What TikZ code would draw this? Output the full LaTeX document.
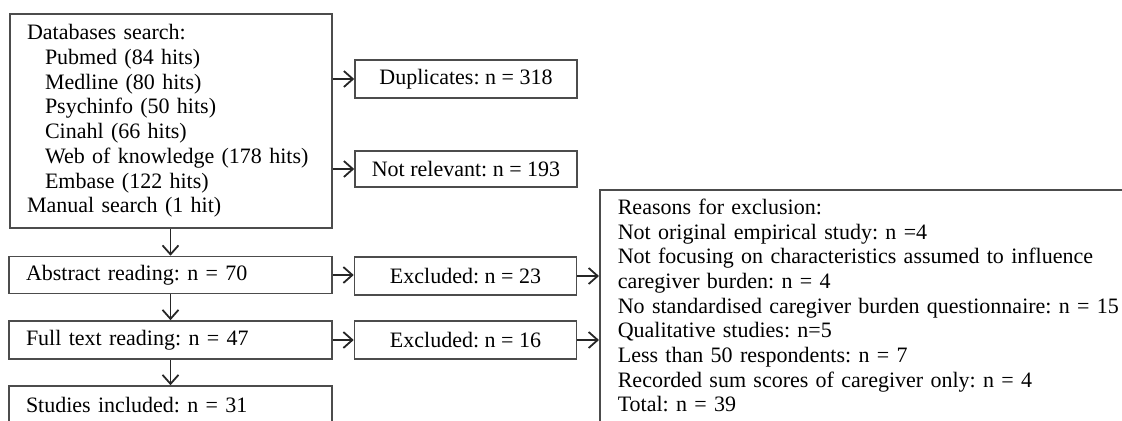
\documentclass[tikz,border=0pt]{standalone}
\usepackage{fontspec}
\setmainfont{Liberation Serif}
\usetikzlibrary{arrows.meta}
\frenchspacing

\tikzset{
  box/.style = {draw = black!70, line width = 0.8pt, inner ysep = 0pt,
    font = \fontsize{11}{12.35}\selectfont},
  leftbox/.style = {box, align = left, inner xsep = 8.5pt},
  midbox/.style = {box, align = center, minimum width = 111pt},
  arr/.style = {-{Straight Barb[length = 4.5pt, width = 8pt]}, line width = 0.9pt, color = black!85}
}

\begin{document}
\begin{tikzpicture}[x = 0.5pt, y = -0.5pt]
\clip (0, 0) rectangle (1122, 420);
%\draw[very thin, color = gray](0, 0) grid[step = 50] (1122, 420);
\node (search) [leftbox, text width = 144pt, minimum height = 107pt] at (171, 121)
  {Databases search:\\
   \hspace*{9pt}Pubmed (84 hits)\\
   \hspace*{9pt}Medline (80 hits)\\
   \hspace*{9pt}Psychinfo (50 hits)\\
   \hspace*{9pt}Cinahl (66 hits)\\
   \hspace*{9pt}Web of knowledge (178 hits)\\
   \hspace*{9pt}Embase (122 hits)\\
   Manual search (1 hit)};
\node (abstract) [leftbox, text width = 144.5pt, minimum height = 18.5pt] at (170.5, 275) {Abstract reading: n = 70};
\node (fulltext) [leftbox, text width = 144.5pt, minimum height = 19pt] at (170.5, 340) {Full text reading: n = 47};
\node (studies) [leftbox, text width = 144.5pt, minimum height = 19pt] at (170.5, 405) {Studies included: n = 31};
\node (dup) [midbox, minimum height = 19pt] at (466, 79) {Duplicates: n = 318};
\node (notrel) [midbox, minimum height = 18pt] at (466, 169) {Not relevant: n = 193};
\node (excl23) [midbox, minimum height = 19pt] at (465.5, 276) {Excluded: n = 23};
\node (excl16) [midbox, minimum height = 19pt] at (465.5, 340) {Excluded: n = 16};
% bottom and right side run off the page
\node (reasons) [leftbox, text width = 270pt, inner xsep = 9pt, inner ysep = 4.5pt, anchor = north west] at (599, 189)
  {Reasons for exclusion:\\
   Not original empirical study: n =4\\
   Not focusing on characteristics assumed to influence\\
   caregiver burden: n = 4\\
   No standardised caregiver burden questionnaire: n = 15\\
   Qualitative studies: n=5\\
   Less than 50 respondents: n = 7\\
   Recorded sum scores of caregiver only: n = 4\\
   Total: n = 39\rule[-14pt]{0pt}{1pt}};
\draw[arr] (abstract.north |- search.south) -- (abstract.north);
\draw[arr] (abstract) -- (fulltext);
\draw[arr] (fulltext) -- (studies);
\draw[arr] (search.east |- dup.west) -- (dup.west);
\draw[arr] (search.east |- notrel.west) -- (notrel.west);
\draw[arr] (abstract.east) -- (abstract.east -| excl23.west);
\draw[arr] (fulltext.east) -- (excl16.west);
\draw[arr] (excl23.east) -- (excl23.east -| reasons.west);
\draw[arr] (excl16.east) -- (excl16.east -| reasons.west);
\end{tikzpicture}
\end{document}
